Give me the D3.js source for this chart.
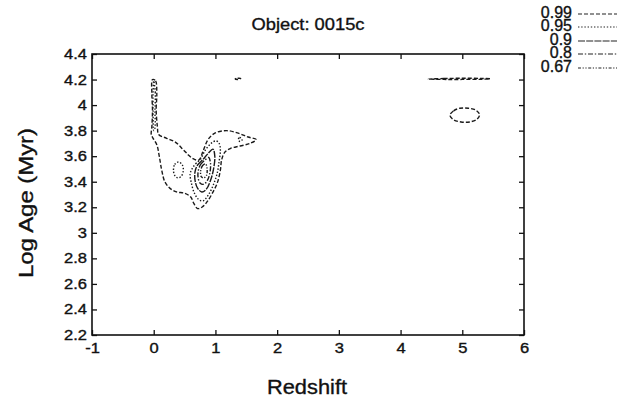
<!DOCTYPE html>
<html>
<head>
<meta charset="utf-8">
<script src="https://cdn.jsdelivr.net/npm/d3@7"></script>
<style>
  html, body { margin: 0; padding: 0; background: #fff; }
  svg { display: block; }
  text { font-family: "Liberation Sans", Arial, Helvetica, sans-serif; fill: #111; stroke: #111; stroke-width: 0.35px; }
</style>
</head>
<body>
<svg id="chart" width="626" height="404"></svg>
<script>
// ---------------- data ----------------
const titleText = "Object: 0015c";
const xLabel = "Redshift";
const yLabel = "Log Age (Myr)";
const xTicks = [-1, 0, 1, 2, 3, 4, 5, 6];
const xTickLabels = ["-1", "0", "1", "2", "3", "4", "5", "6"];
const yTicks = [2.2, 2.4, 2.6, 2.8, 3.0, 3.2, 3.4, 3.6, 3.8, 4.0, 4.2, 4.4];
const yTickLabels = ["2.2", "2.4", "2.6", "2.8", "3", "3.2", "3.4", "3.6", "3.8", "4", "4.2", "4.4"];
const levels = ["0.99", "0.95", "0.9", "0.8", "0.67"];

// contour rings, points are [redshift, log age]
const contours99 = [
  [[-0.02,4.20],[0.03,4.19],[0.05,4.09],[0.04,3.96],[0.06,3.83],[0.08,3.77],[0.21,3.74],[0.35,3.71],
   [0.48,3.65],[0.56,3.61],[0.64,3.58],[0.73,3.57],[0.80,3.64],[0.88,3.73],[0.99,3.78],[1.18,3.80],
   [1.37,3.78],[1.53,3.75],[1.66,3.73],[1.56,3.70],[1.40,3.68],[1.24,3.66],[1.15,3.63],[1.10,3.57],
   [1.08,3.49],[1.03,3.39],[0.95,3.31],[0.86,3.24],[0.78,3.20],[0.71,3.19],[0.65,3.23],[0.60,3.28],
   [0.50,3.31],[0.37,3.32],[0.26,3.35],[0.18,3.40],[0.13,3.49],[0.09,3.60],[0.05,3.69],[-0.01,3.74],
   [-0.04,3.77],[-0.03,3.83],[-0.02,3.96],[-0.03,4.09]],
  [[4.80,3.92],[4.86,3.955],[4.96,3.975],[5.10,3.975],[5.22,3.96],[5.28,3.925],[5.24,3.89],[5.12,3.868],[4.98,3.868],[4.86,3.885]],
  [[4.45,4.204],[4.70,4.208],[5.00,4.210],[5.30,4.209],[5.45,4.206],[5.30,4.202],[5.00,4.201],[4.70,4.201]],
  [[1.32,4.205],[1.36,4.21],[1.41,4.208],[1.37,4.201]]
];
const contours95 = [
  [[0.62,3.50],[0.68,3.54],[0.76,3.58],[0.84,3.65],[0.93,3.70],[1.01,3.72],[1.06,3.70],[1.08,3.65],
   [1.06,3.56],[1.03,3.47],[0.97,3.38],[0.89,3.30],[0.80,3.25],[0.73,3.26],[0.66,3.31],[0.61,3.39],[0.59,3.46]],
  [[0.32,3.49],[0.34,3.535],[0.40,3.555],[0.46,3.535],[0.48,3.49],[0.45,3.445],[0.39,3.43],[0.34,3.45]],
  [[1.37,3.73],[1.39,3.745],[1.42,3.742],[1.43,3.727],[1.40,3.715]],
  [[0.00,4.19],[0.025,4.10],[0.02,3.95],[0.02,3.82],[0.00,3.80],[-0.01,3.95],[-0.01,4.10]]
];
const contours90 = [
  [[0.67,3.48],[0.71,3.53],[0.79,3.57],[0.88,3.62],[0.96,3.655],[0.99,3.60],[0.97,3.50],[0.92,3.41],
   [0.85,3.34],[0.78,3.32],[0.71,3.35],[0.67,3.41]]
];
const contours80 = [
  [[0.72,3.48],[0.76,3.535],[0.83,3.57],[0.89,3.59],[0.92,3.545],[0.91,3.47],[0.87,3.41],[0.81,3.38],
   [0.75,3.39],[0.72,3.43]]
];
const contours67 = [
  [[0.76,3.48],[0.79,3.525],[0.84,3.54],[0.865,3.50],[0.855,3.45],[0.81,3.43],[0.77,3.44]]
];

// ---------------- drawing ----------------
const svg = d3.select("#chart");
const x = d3.scaleLinear().domain([-1, 6]).range([92, 524]);
const y = d3.scaleLinear().domain([2.2, 4.4]).range([335, 54]);

const dashStyles = {
  "0.99": "4,2",
  "0.95": "1.4,1.8",
  "0.9": "7,1.2",
  "0.8": "5,1.8,1.4,1.8",
  "0.67": "3,1.6,1.2,1.6,1.2,1.6"
};
const contourSets = [
  { level: "0.99", rings: contours99 },
  { level: "0.95", rings: contours95 },
  { level: "0.9", rings: contours90 },
  { level: "0.8", rings: contours80 },
  { level: "0.67", rings: contours67 }
];

const line = d3.line()
  .x(d => x(d[0]))
  .y(d => y(d[1]))
  .curve(d3.curveCatmullRomClosed.alpha(0.5));

const gC = svg.append("g");
contourSets.forEach(s => {
  gC.selectAll(null).data(s.rings).enter().append("path")
    .attr("d", line)
    .attr("fill", "none")
    .attr("stroke", "#1a1a1a")
    .attr("stroke-width", 1.4)
    .attr("stroke-dasharray", dashStyles[s.level]);
});

// axes (ticks inward on all sides)
function styleAxis(g) {
  g.select(".domain").remove();
  g.selectAll(".tick line").attr("stroke", "#111").attr("stroke-width", 1.3);
}
function stretch(sel, k) {
  sel.each(function () {
    const w = this.getComputedTextLength();
    if (w > 0) d3.select(this).attr("textLength", w * k).attr("lengthAdjust", "spacingAndGlyphs");
  });
}

const gx = svg.append("g").attr("transform", "translate(0,335)")
  .call(d3.axisBottom(x).tickValues(xTicks).tickFormat((d, i) => xTickLabels[i]).tickSize(-5).tickPadding(8));
styleAxis(gx);
gx.selectAll("text").attr("font-size", 14).attr("font-family", "Liberation Sans, Arial, sans-serif").attr("fill", "#111");

const gy = svg.append("g").attr("transform", "translate(92,0)")
  .call(d3.axisLeft(y).tickValues(yTicks).tickFormat((d, i) => yTickLabels[i]).tickSize(-5).tickPadding(5));
styleAxis(gy);
gy.selectAll("text").attr("font-size", 14).attr("font-family", "Liberation Sans, Arial, sans-serif").attr("fill", "#111");

const gt = svg.append("g").attr("transform", "translate(0,54)")
  .call(d3.axisTop(x).tickValues(xTicks).tickFormat("").tickSize(-5));
styleAxis(gt);
const gr = svg.append("g").attr("transform", "translate(524,0)")
  .call(d3.axisRight(y).tickValues(yTicks).tickFormat("").tickSize(-5));
styleAxis(gr);

stretch(gx.selectAll("text"), 1.18);
stretch(gy.selectAll("text"), 1.18);

// frame
svg.append("rect")
  .attr("x", x(-1)).attr("y", y(4.4))
  .attr("width", x(6) - x(-1)).attr("height", y(2.2) - y(4.4))
  .attr("fill", "none").attr("stroke", "#111").attr("stroke-width", 1.6);

// title and axis labels
svg.append("text").attr("x", 308).attr("y", 30).attr("text-anchor", "middle")
  .attr("font-size", 17).attr("textLength", 113).attr("lengthAdjust", "spacingAndGlyphs").text(titleText);
svg.append("text").attr("x", 307).attr("y", 394).attr("text-anchor", "middle")
  .attr("font-size", 20).attr("textLength", 80).attr("lengthAdjust", "spacingAndGlyphs").text(xLabel);
svg.append("text").attr("transform", "translate(33,203) rotate(-90)").attr("text-anchor", "middle")
  .attr("font-size", 21).attr("textLength", 150).attr("lengthAdjust", "spacingAndGlyphs").text(yLabel);

// legend
const legendBaselines = [18, 31, 45, 58, 72];
const gl = svg.append("g");
levels.forEach((lv, i) => {
  gl.append("text").attr("x", 572).attr("y", legendBaselines[i]).attr("text-anchor", "end")
    .attr("font-size", 16).text(lv);
  gl.append("line").attr("x1", 578).attr("x2", 617)
    .attr("y1", legendBaselines[i] - 4).attr("y2", legendBaselines[i] - 4)
    .attr("stroke", "#222").attr("stroke-width", 1.2)
    .attr("stroke-dasharray", dashStyles[lv]);
});
</script>
</body>
</html>
